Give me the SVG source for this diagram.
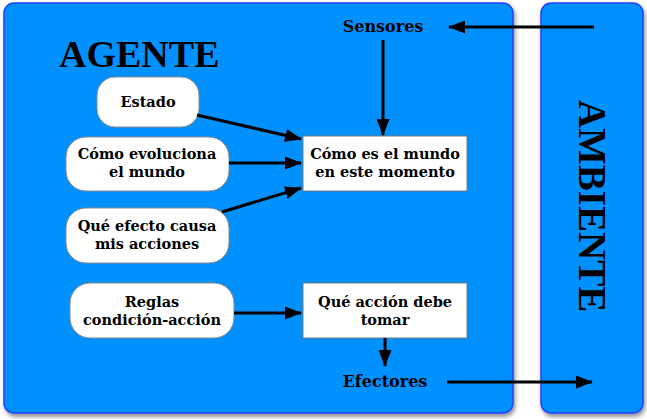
<svg xmlns="http://www.w3.org/2000/svg" width="647" height="419" viewBox="0 0 647 419">
<defs>
<filter id="sh" x="-5%" y="-5%" width="115%" height="115%">
<feDropShadow dx="1.5" dy="3" stdDeviation="2" flood-color="#000" flood-opacity="0.45"/>
</filter>
<marker id="ah" markerUnits="userSpaceOnUse" markerWidth="17" markerHeight="13" refX="16" refY="6.5" orient="auto">
<path d="M0,0 L17,6.5 L0,13 z" fill="#000"/>
</marker>
<style>
.panel{fill:#0091ff;stroke:#2040ff;stroke-width:1.5}
.rnd{fill:#fff;stroke:#888;stroke-width:1}
.box{fill:#fff;stroke:#777;stroke-width:1}
.t{font-family:"DejaVu Serif",Georgia,serif;font-weight:bold;font-size:14.5px;fill:#000;text-anchor:middle}
.big{font-family:"Liberation Serif","Times New Roman",serif;font-weight:bold;fill:#000}
.lbl{font-family:"DejaVu Serif",Georgia,serif;font-weight:bold;font-size:16px;fill:#000;text-anchor:middle}
.c{stroke:#000;stroke-width:3;fill:none;marker-end:url(#ah)}
</style>
</defs>
<g id="agente">
<rect class="panel" x="4" y="3" width="509" height="410" rx="10" filter="url(#sh)"/>
<text class="big" x="59" y="67" font-size="38">AGENTE</text>
</g>
<g id="ambiente">
<rect class="panel" x="541" y="3" width="102" height="410" rx="10" filter="url(#sh)"/>
<text class="big" font-size="39" text-anchor="middle" transform="translate(579,206) rotate(90)">AMBIENTE</text>
</g>
<g id="sensores"><text class="lbl" x="383" y="32">Sensores</text></g>
<g id="efectores"><text class="lbl" x="385" y="387">Efectores</text></g>
<g id="estado">
<rect class="rnd" x="97" y="77" width="102" height="50" rx="18"/>
<text class="t" x="148" y="107">Estado</text>
</g>
<g id="evoluciona">
<rect class="rnd" x="66" y="137" width="163" height="54" rx="20"/>
<text class="t" x="147" y="159">Cómo evoluciona</text>
<text class="t" x="147" y="177">el mundo</text>
</g>
<g id="efecto">
<rect class="rnd" x="66" y="208" width="163" height="55" rx="20"/>
<text class="t" x="147" y="231">Qué efecto causa</text>
<text class="t" x="147" y="249">mis acciones</text>
</g>
<g id="mundo">
<rect class="box" x="303" y="136" width="164" height="55"/>
<text class="t" x="385" y="159">Cómo es el mundo</text>
<text class="t" x="385" y="177">en este momento</text>
</g>
<g id="reglas">
<rect class="rnd" x="70" y="283" width="164" height="55" rx="20"/>
<text class="t" x="152" y="307">Reglas</text>
<text class="t" x="152" y="325">condición-acción</text>
</g>
<g id="accion">
<rect class="box" x="303" y="283" width="164" height="55"/>
<text class="t" x="385" y="307">Qué acción debe</text>
<text class="t" x="385" y="325">tomar</text>
</g>
<g id="connectors">
<line class="c" x1="594" y1="27" x2="449" y2="27"/>
<line class="c" x1="383" y1="40" x2="383" y2="135"/>
<line class="c" x1="197" y1="115" x2="301" y2="139"/>
<line class="c" x1="229" y1="163" x2="301" y2="163"/>
<line class="c" x1="222" y1="212" x2="301" y2="188"/>
<line class="c" x1="234" y1="313" x2="301" y2="313"/>
<line class="c" x1="385" y1="338" x2="385" y2="366"/>
<line class="c" x1="447" y1="382" x2="592" y2="382"/>
</g>
</svg>
